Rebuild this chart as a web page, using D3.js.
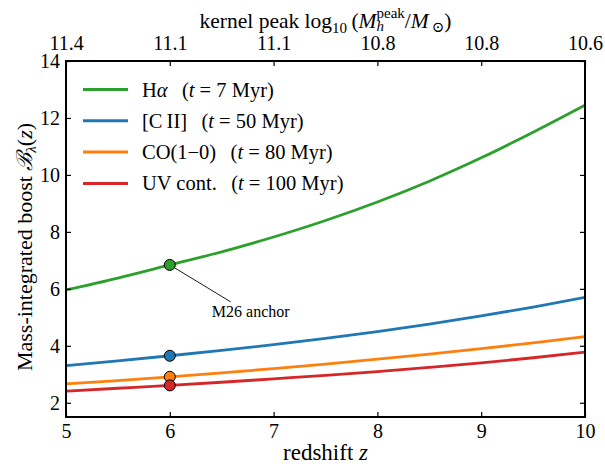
<!DOCTYPE html>
<html>
<head>
<meta charset="utf-8">
<script src="https://cdn.jsdelivr.net/npm/d3@7"></script>
<style>
  html, body { margin: 0; padding: 0; background: #fff; }
  svg text { font-family: "Liberation Serif", "DejaVu Serif", serif; fill: #000; }
</style>
</head>
<body>
<svg id="chart" width="605" height="464"></svg>
<script>
// Redshift grid shared by all curves
const redshifts = [5, 5.5, 6, 6.5, 7, 7.5, 8, 8.5, 9, 9.5, 10];

// Mass-integrated boost per tracer
const boostHalpha = [5.96, 6.38, 6.84, 7.30, 7.82, 8.40, 9.05, 9.78, 10.60, 11.50, 12.45];
const boostCII    = [3.30, 3.47, 3.65, 3.84, 4.04, 4.26, 4.50, 4.76, 5.05, 5.36, 5.70];
const boostCO     = [2.66, 2.78, 2.91, 3.05, 3.20, 3.36, 3.53, 3.71, 3.90, 4.10, 4.32];
const boostUV     = [2.41, 2.51, 2.61, 2.72, 2.84, 2.96, 3.09, 3.24, 3.40, 3.58, 3.78];

// Anchor redshift and its per-tracer value
const anchorZ = 6;
const anchorValues = [6.84, 3.65, 2.91, 2.61];

// Axis ticks
const xTicks = [5, 6, 7, 8, 9, 10];
const yTicks = [2, 4, 6, 8, 10, 12, 14];
const topTickLabels = ["11.4", "11.1", "11.1", "10.8", "10.8", "10.6"];

const seriesColors = ["#2ca02c", "#1f77b4", "#ff7f0e", "#d62728"];
const seriesValues = [boostHalpha, boostCII, boostCO, boostUV];

const svg = d3.select("#chart");
const margin = { left: 66, right: 20, top: 61, bottom: 47 };
const W = 605, H = 464;

const x = d3.scaleLinear().domain([5, 10]).range([margin.left, W - margin.right]);
const y = d3.scaleLinear().domain([1.5, 14]).range([H - margin.bottom, margin.top]);

const tickFont = 20;
const scriptFont = 15;

// Curves
const line = d3.line()
  .x((d) => x(d[0]))
  .y((d) => y(d[1]))
  .curve(d3.curveMonotoneX);

const plot = svg.append("g");
plot.append("defs").append("clipPath").attr("id", "clip")
  .append("rect")
  .attr("x", x(5)).attr("y", y(14))
  .attr("width", x(10) - x(5)).attr("height", y(1.5) - y(14));

const curves = plot.append("g").attr("clip-path", "url(#clip)");
seriesValues.forEach((vals, i) => {
  curves.append("path")
    .datum(redshifts.map((z, j) => [z, vals[j]]))
    .attr("d", line)
    .attr("fill", "none")
    .attr("stroke", seriesColors[i])
    .attr("stroke-width", 2.8);
});

// Annotation leader for the anchor point
plot.append("line")
  .attr("x1", x(anchorZ)).attr("y1", y(anchorValues[0]))
  .attr("x2", x(anchorZ) + 61).attr("y2", y(anchorValues[0]) + 37)
  .attr("stroke", "#000").attr("stroke-width", 0.9);
plot.append("text")
  .attr("x", x(anchorZ) + 42).attr("y", y(anchorValues[0]) + 52)
  .attr("font-size", 16)
  .text("M26 anchor");

// Anchor markers
seriesColors.forEach((c, i) => {
  plot.append("circle")
    .attr("cx", x(anchorZ)).attr("cy", y(anchorValues[i]))
    .attr("r", 5.5)
    .attr("fill", c)
    .attr("stroke", "#000").attr("stroke-width", 1);
});

// Axes: ticks point inward on all four sides
function styleAxis(g) {
  g.select(".domain").remove();
  g.selectAll(".tick line").attr("stroke", "#000").attr("stroke-width", 1.2);
  g.selectAll(".tick text").attr("font-size", tickFont)
    .attr("font-family", "Liberation Serif, serif").attr("fill", "#000");
}

svg.append("g")
  .attr("transform", `translate(0,${y(1.5)})`)
  .call(d3.axisBottom(x).tickValues(xTicks).tickFormat(d3.format("d")).tickSize(-5).tickPadding(7))
  .call(styleAxis);

svg.append("g")
  .attr("transform", `translate(0,${y(14)})`)
  .call(d3.axisTop(x).tickValues(xTicks).tickFormat((d, i) => topTickLabels[i]).tickSize(-5).tickPadding(11))
  .call(styleAxis);

svg.append("g")
  .attr("transform", `translate(${x(5)},0)`)
  .call(d3.axisLeft(y).tickValues(yTicks).tickFormat(d3.format("d")).tickSize(-5).tickPadding(6))
  .call(styleAxis);

svg.append("g")
  .attr("transform", `translate(${x(10)},0)`)
  .call(d3.axisRight(y).tickValues(yTicks).tickFormat("").tickSize(-5))
  .call(styleAxis);

// Frame
svg.append("rect")
  .attr("x", x(5)).attr("y", y(14))
  .attr("width", x(10) - x(5)).attr("height", y(1.5) - y(14))
  .attr("fill", "none").attr("stroke", "#000").attr("stroke-width", 2);

// Legend
const legendItems = [
  [{ t: "H" }, { t: "α", i: true }, { t: "\u2002\u2009(" }, { t: "t", i: true }, { t: " = 7 Myr)" }],
  [{ t: "[C\u2009II]" }, { t: "\u2002\u2009(" }, { t: "t", i: true }, { t: " = 50 Myr)" }],
  [{ t: "CO(1\u22120)" }, { t: "\u2002\u2009(" }, { t: "t", i: true }, { t: " = 80 Myr)" }],
  [{ t: "UV cont." }, { t: "\u2002\u2009(" }, { t: "t", i: true }, { t: " = 100 Myr)" }]
];
const legend = svg.append("g");
legendItems.forEach((parts, i) => {
  const ly = 89.5 + i * 31.3;
  legend.append("line")
    .attr("x1", 83).attr("x2", 128).attr("y1", ly).attr("y2", ly)
    .attr("stroke", seriesColors[i]).attr("stroke-width", 3);
  const t = legend.append("text").attr("x", 142).attr("y", ly + 7).attr("font-size", 20.5);
  parts.forEach((p) => {
    t.append("tspan").attr("font-style", p.i ? "italic" : null).text(p.t);
  });
});

// Bottom axis label
svg.append("text")
  .attr("x", (x(5) + x(10)) / 2).attr("y", 460)
  .attr("text-anchor", "middle").attr("font-size", 23)
  .call((t) => {
    t.append("tspan").text("redshift ");
    t.append("tspan").attr("font-style", "italic").text("z");
  });

// Left axis label
svg.append("text")
  .attr("transform", `translate(32,247) rotate(-90)`)
  .attr("text-anchor", "middle").attr("font-size", 22)
  .call((t) => {
    t.append("tspan").text("Mass-integrated boost ");
    t.append("tspan").attr("font-style", "italic").text("\u212C");
    t.append("tspan").attr("font-style", "italic").attr("font-size", scriptFont).attr("dy", 4).text("λ");
    t.append("tspan").attr("dy", -4).text("(");
    t.append("tspan").attr("font-style", "italic").text("z");
    t.append("tspan").text(")");
  });

// Top axis label with stacked super/subscript
const title = svg.append("text")
  .attr("x", (x(5) + x(10)) / 2).attr("y", 28)
  .attr("text-anchor", "middle").attr("font-size", 21.5);
title.append("tspan").text("kernel peak log");
title.append("tspan").attr("font-size", scriptFont).attr("dy", 5).text("10");
title.append("tspan").attr("dy", -5).text("\u2009(");
title.append("tspan").attr("font-style", "italic").text("M");
const supPeak = title.append("tspan").attr("font-size", scriptFont).attr("dy", -10).text("peak");
const subH = title.append("tspan").attr("font-size", scriptFont).attr("font-style", "italic").attr("dy", 13).text("h");
const slash = title.append("tspan").attr("dy", -3).text("/");
title.append("tspan").attr("font-style", "italic").text("M");
title.append("tspan").attr("font-size", scriptFont).attr("dy", 4).text("\u2009\u2299");
title.append("tspan").attr("dy", -4).text(")");
// Pull the subscript back under the superscript, then move past the wider superscript
const peakW = supPeak.node().getComputedTextLength();
const hW = subH.node().getComputedTextLength();
subH.attr("dx", -peakW);
slash.attr("dx", peakW - hW);
</script>
</body>
</html>
